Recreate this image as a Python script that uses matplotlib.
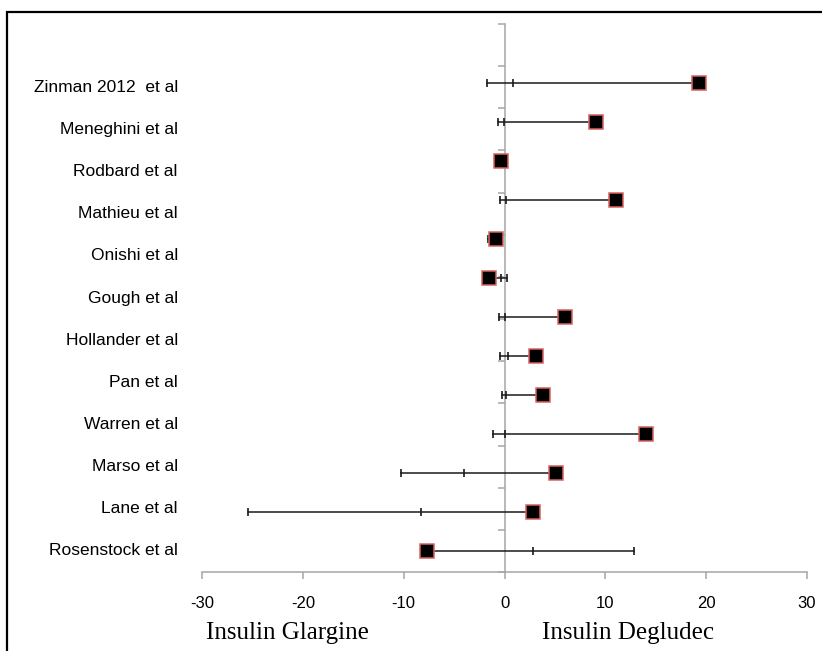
import numpy as np
import matplotlib.pyplot as plt
import matplotlib.patches as patches

# study names, bottom to top
studies = ['Rosenstock et al', 'Lane et al', 'Marso et al', 'Warren et al',
           'Pan et al', 'Hollander et al', 'Gough et al', 'Onishi et al',
           'Mathieu et al', 'Rodbard et al', 'Meneghini et al', 'Zinman 2012  et al']

# plotted points, bottom to top (13 rows on the secondary scale)
est = [-7.66, 2.8, 5.1, 14.0, 3.85, 3.13, 5.97, -1.54, -0.87, 11.1, -0.32, 9.1, 19.3]
ci_end = [12.85, -25.4, -10.24, -1.17, -0.28, -0.45, -0.58, 0.28, -1.6, -0.45, -0.6, -0.64, -1.75]
ci_mid = [2.86, -8.3, -3.99, 0.05, 0.15, 0.32, 0.08, -0.35, -1.2, 0.15, -0.1, -0.05, 0.84]

xticks = [-30, -20, -10, 0, 10, 20, 30]

axis_grey = '#a6a6a6'

fig = plt.figure(figsize=(8.22, 6.51), dpi=100)
ax = fig.add_axes([202/822, 79/651, 605/822, 548/651])

ax.set_xlim(-30, 30)
ax.set_ylim(0.5, 13.5)

for s in ['top', 'right']:
    ax.spines[s].set_visible(False)
ax.spines['left'].set_position(('data', 0))
ax.spines['left'].set_color(axis_grey)
ax.spines['bottom'].set_color(axis_grey)
ax.spines['left'].set_linewidth(1.1)
ax.spines['bottom'].set_linewidth(1.1)

ax.set_xticks(xticks)
ax.set_xticklabels([str(t) for t in xticks], fontsize=12, family='Liberation Sans')
ax.tick_params(axis='x', direction='out', length=5, width=1.1, color=axis_grey, pad=12)
ax.set_yticks(np.arange(0.5, 14, 1))
ax.set_yticklabels([])
ax.tick_params(axis='y', direction='out', length=5, width=1.1, color=axis_grey)

for i, name in enumerate(studies):
    ax.text(-32.4, i + 1, name, ha='right', va='center', fontsize=12.5,
            family='Liberation Sans', clip_on=False)

# points on a secondary scale
ax2 = ax.twinx()
ax2.set_ylim(0.454, 14.5)
ax2.axis('off')
ypos = np.arange(1, len(est) + 1)
for y, e, c, m in zip(ypos, est, ci_end, ci_mid):
    ax2.plot([e, c], [y, y], color='#1a1a1a', lw=1.1, zorder=2)
    ax2.plot([c, m], [y, y], ls='none', marker='|', ms=6, mew=1.2, color='#1a1a1a', zorder=2)
ax2.plot(est, ypos, ls='none', marker='s', ms=9.8, mfc='black', mec='#d96060', mew=1.1, zorder=3)

fig.text(206/822, 1 - 633/651, 'Insulin Glargine', ha='left', va='center',
         fontsize=18, family='Liberation Serif')
fig.text(542/822, 1 - 633/651, 'Insulin Degludec', ha='left', va='center',
         fontsize=18, family='Liberation Serif')

# outer frame, cropped at right and bottom
frame = patches.Rectangle((7/822, -0.1), 1.0, 1.1 - 12/651, transform=fig.transFigure,
                          fill=False, edgecolor='black', lw=1.6)
fig.patches.append(frame)

plt.savefig('out.png', dpi=100)
